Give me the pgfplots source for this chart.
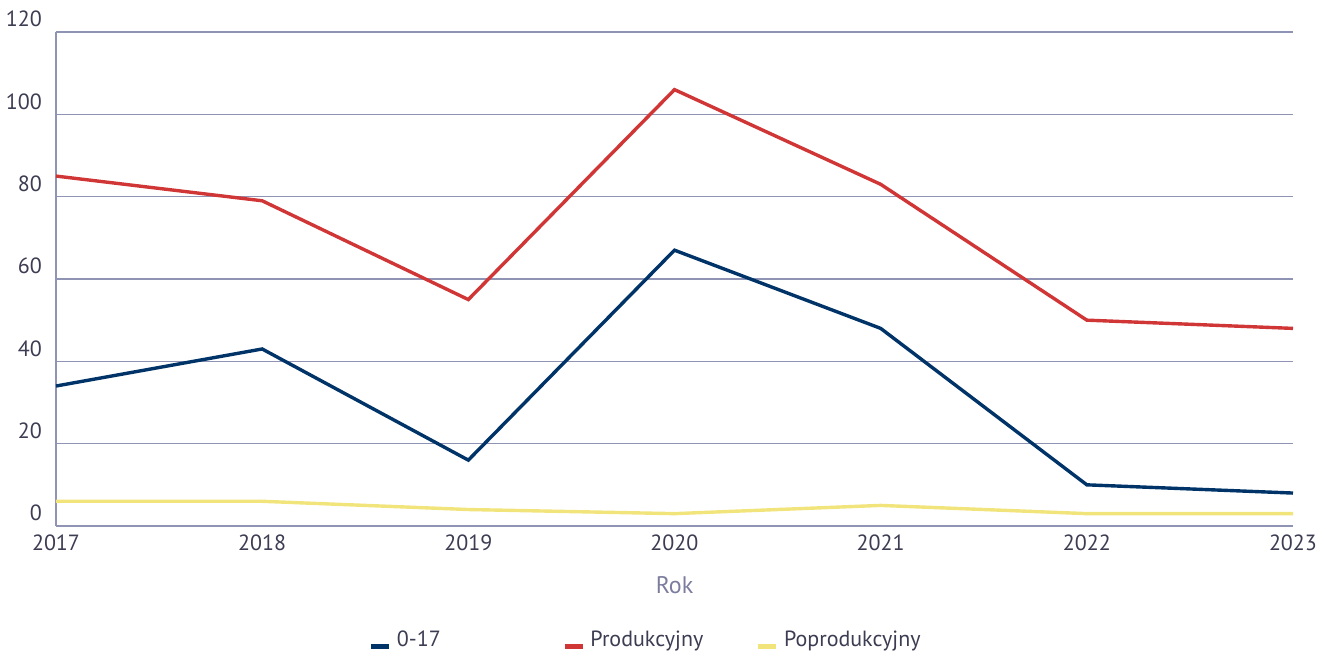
\documentclass[border=0pt]{standalone}
\usepackage{pgfplots}
\pgfplotsset{compat=1.18}
\usepackage{fontspec}
\setmainfont{PT Sans}
\definecolor{gridc}{HTML}{9094B4}
\definecolor{tickc}{HTML}{3C3C52}
\definecolor{labc}{HTML}{7C7C9E}
\definecolor{navy}{HTML}{003468}
\definecolor{redc}{HTML}{D13636}
\definecolor{yelc}{HTML}{F0E47A}
\begin{document}
\begin{tikzpicture}
\begin{axis}[
  name=ax,
  scale only axis,
  width=618.5pt, height=247pt,
  xmin=2017, xmax=2023, ymin=0, ymax=120,
  xtick={2017,2018,...,2023},
  ytick={0,20,...,120},
  xticklabel style={/pgf/number format/1000 sep={}, yshift=-1pt},
  x tick label style={/pgf/number format/1000 sep={}},
  /pgf/number format/assume math mode=true,
  font=\fontsize{11}{13}\selectfont,
  tick label style={text=tickc},
  yticklabel style={anchor=base east, yshift=2.5pt, xshift=-3.5pt},
  major tick length=0pt,
  axis x line*=bottom, axis y line*=left,
  axis line style={draw=gridc, line width=0.75pt},
  ymajorgrids, grid style={draw=gridc, line width=0.75pt},
  xlabel={Rok},
  xlabel style={at={(axis description cs:0.5,0)}, anchor=center, yshift=-29.5pt, text=labc, font=\fontsize{12}{14}\selectfont},
  legend columns=3,
  legend style={draw=none, fill=none, inner sep=0pt, at={(axis description cs:0.2526,-0.2308)}, anchor=west,
    nodes={text width=80pt, align=left, text=tickc, inner xsep=2.8pt},
    font=\fontsize{11}{13}\selectfont},
  legend image code/.code={\draw[line width=2.2pt] (0pt,-3.2pt) -- (9pt,-3.2pt);},
]
\addplot[navy, line width=1.7pt] coordinates {(2017,34) (2018,43) (2019,16) (2020,67) (2021,48) (2022,10) (2023,8)};
\addlegendentry{0-17}
\addplot[redc, line width=1.7pt] coordinates {(2017,85) (2018,79) (2019,55) (2020,106) (2021,83) (2022,50) (2023,48)};
\addlegendentry{Produkcyjny}
\addplot[yelc, line width=1.7pt] coordinates {(2017,6) (2018,6) (2019,4) (2020,3) (2021,5) (2022,3) (2023,3)};
\addlegendentry{Poprodukcyjny}
\end{axis}
\pgfresetboundingbox
\path[use as bounding box] ([xshift=-28pt,yshift=-65pt]ax.south west) rectangle ++(663pt,328pt);
\end{tikzpicture}
\end{document}
